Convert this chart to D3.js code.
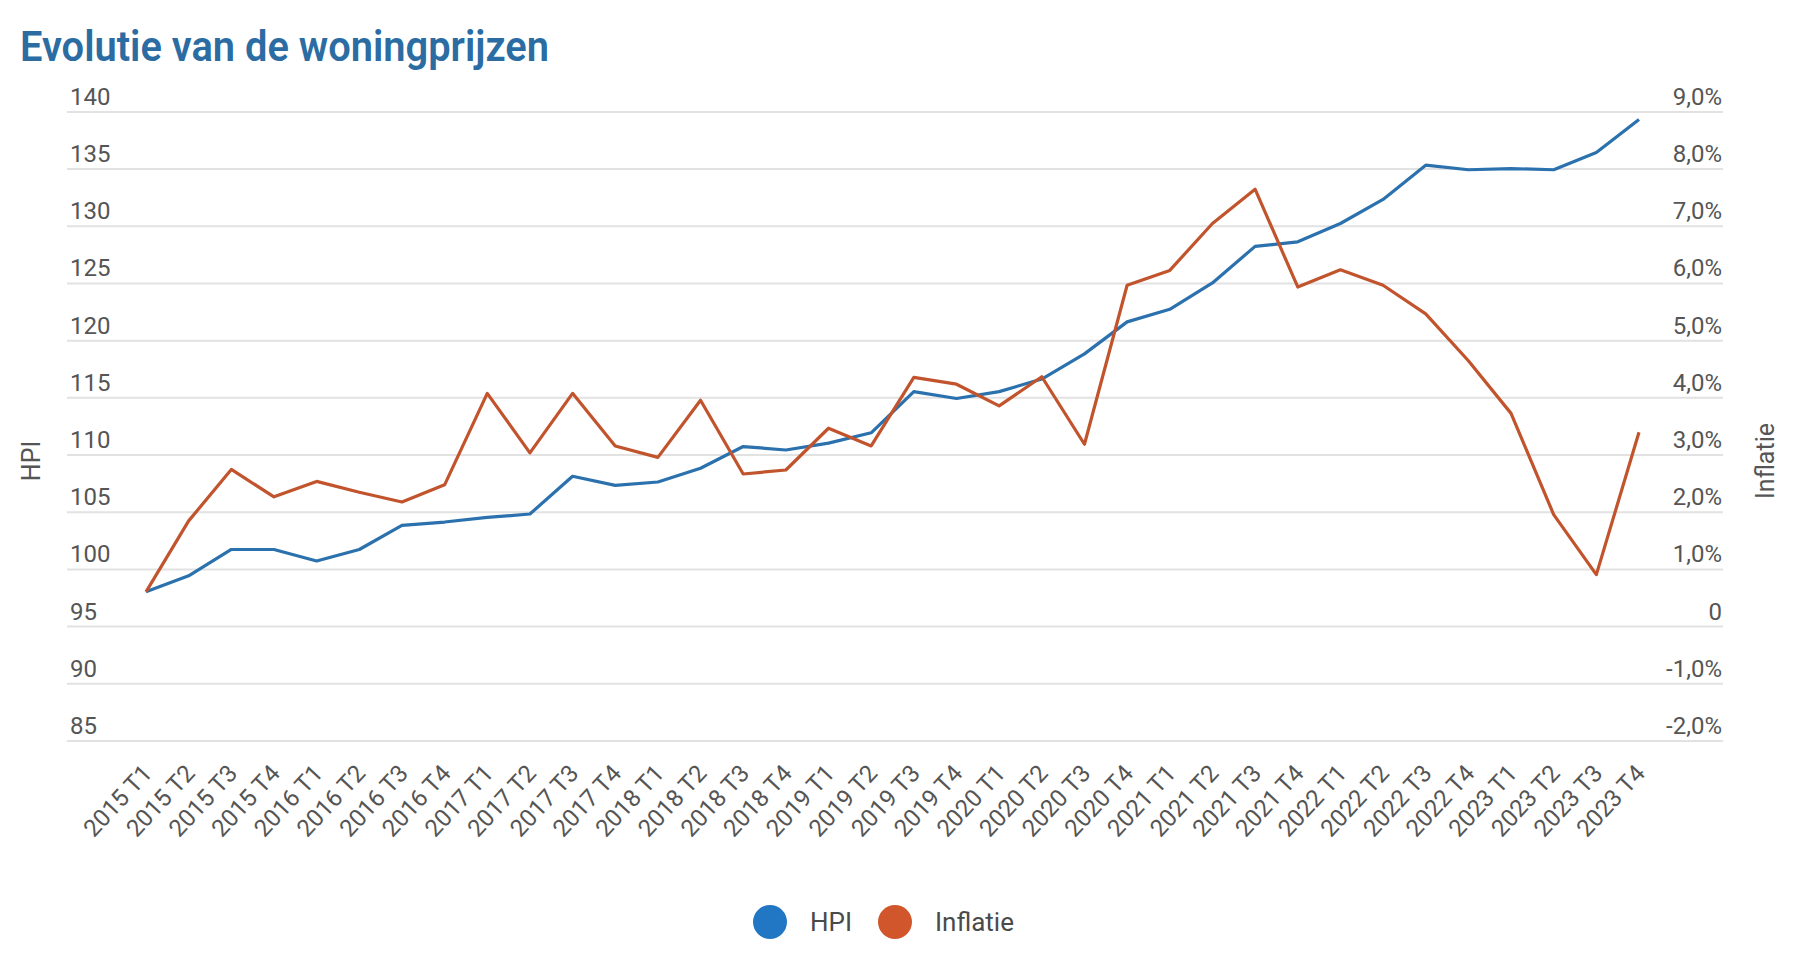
<!DOCTYPE html>
<html>
<head>
<meta charset="utf-8">
<script src="https://cdn.jsdelivr.net/npm/d3@7"></script>
<style>
  html, body { margin: 0; padding: 0; background: #ffffff; }
  svg { display: block; font-family: Roboto, "Noto Sans", sans-serif; }
</style>
</head>
<body>
<svg id="chart" width="1800" height="956"></svg>
<script>
const categories = [
  "2015 T1","2015 T2","2015 T3","2015 T4",
  "2016 T1","2016 T2","2016 T3","2016 T4",
  "2017 T1","2017 T2","2017 T3","2017 T4",
  "2018 T1","2018 T2","2018 T3","2018 T4",
  "2019 T1","2019 T2","2019 T3","2019 T4",
  "2020 T1","2020 T2","2020 T3","2020 T4",
  "2021 T1","2021 T2","2021 T3","2021 T4",
  "2022 T1","2022 T2","2022 T3","2022 T4",
  "2023 T1","2023 T2","2023 T3","2023 T4"
];
const hpi = [
  98.0, 99.4, 101.7, 101.7,
  100.7, 101.7, 103.8, 104.1,
  104.5, 104.8, 108.1, 107.3,
  107.6, 108.8, 110.7, 110.4,
  111.0, 111.9, 115.5, 114.9,
  115.5, 116.6, 118.8, 121.6,
  122.7, 125.0, 128.2, 128.6,
  130.2, 132.3, 135.3, 134.9,
  135.0, 134.9, 136.4, 139.3
];
const inflatie = [
  0.60, 1.84, 2.74, 2.26,
  2.53, 2.34, 2.17, 2.47,
  4.07, 3.03, 4.07, 3.15,
  2.95, 3.95, 2.66, 2.73,
  3.46, 3.15, 4.35, 4.23,
  3.85, 4.36, 3.18, 5.96,
  6.22, 7.04, 7.64, 5.93,
  6.23, 5.96, 5.46, 4.64,
  3.72, 1.95, 0.90, 3.39
];
const leftTicks = [85, 90, 95, 100, 105, 110, 115, 120, 125, 130, 135, 140];
const rightTicks = [-2, -1, 0, 1, 2, 3, 4, 5, 6, 7, 8, 9];
const seriesNames = ["HPI", "Inflatie"];
const titleText = "Evolutie van de woningprijzen";
const leftTitle = "HPI";
const rightTitle = "Inflatie";

const colors = { line: ["#2b71ae", "#c1542c"], dot: ["#2277c4", "#d2562b"] };

const svg = d3.select("#chart");
const gridLeft = 67, gridRight = 1723;
const yTop = 111.4, yBottom = 740.5;

const x = d3.scalePoint().domain(categories).range([146, 1639]);
const yL = d3.scaleLinear().domain([85, 140]).range([yBottom, yTop]);
const yR = d3.scaleLinear().domain([-2, 9]).range([yBottom, yTop]);

// Title
svg.append("text")
  .attr("x", 20).attr("y", 61)
  .attr("font-size", 42).attr("font-weight", 600)
  .attr("fill", "#2b6ca3")
  .attr("textLength", 529).attr("lengthAdjust", "spacingAndGlyphs")
  .text(titleText);

// Left axis with gridlines
const gL = svg.append("g").attr("transform", `translate(${gridLeft},0)`)
  .call(d3.axisLeft(yL).tickValues(leftTicks).tickSize(-(gridRight - gridLeft)).tickFormat(d3.format("d")));
gL.select(".domain").remove();
gL.selectAll(".tick line").attr("stroke", "#e2e2e2").attr("stroke-width", 2);
gL.selectAll(".tick text")
  .attr("x", 3).attr("dy", -7)
  .attr("text-anchor", "start")
  .attr("font-size", 24).attr("font-family", "Roboto")
  .attr("fill", "#555");

// Right axis
const fmtR = v => v === 0 ? "0" : (v < 0 ? "-" : "") + d3.format(".1f")(Math.abs(v)).replace(".", ",") + "%";
const gR = svg.append("g").attr("transform", `translate(${gridRight},0)`)
  .call(d3.axisRight(yR).tickValues(rightTicks).tickSize(0).tickFormat(fmtR));
gR.select(".domain").remove();
gR.selectAll(".tick text")
  .attr("x", -1).attr("dy", -7)
  .attr("text-anchor", "end")
  .attr("font-size", 24).attr("font-family", "Roboto")
  .attr("fill", "#555");

// X axis
const gX = svg.append("g").attr("transform", `translate(0,${yBottom})`)
  .call(d3.axisBottom(x).tickSize(0));
gX.select(".domain").remove();
gX.selectAll(".tick text")
  .attr("x", 7).attr("y", 34).attr("dy", 0)
  .attr("text-anchor", "end")
  .attr("font-size", 24).attr("font-family", "Roboto")
  .attr("fill", "#555")
  .attr("transform", "rotate(-47, 7, 34)");

// Axis titles
svg.append("text")
  .attr("transform", `translate(40,461) rotate(-90)`)
  .attr("text-anchor", "middle")
  .attr("font-size", 25).attr("fill", "#555")
  .text(leftTitle);
svg.append("text")
  .attr("transform", `translate(1774,461) rotate(-90)`)
  .attr("text-anchor", "middle")
  .attr("font-size", 25).attr("fill", "#555")
  .text(rightTitle);

// Lines
const lineL = d3.line().x((d, i) => x(categories[i])).y(d => yL(d));
const lineR = d3.line().x((d, i) => x(categories[i])).y(d => yR(d));
svg.append("path").datum(hpi)
  .attr("d", lineL).attr("fill", "none")
  .attr("stroke", colors.line[0]).attr("stroke-width", 3.2)
  .attr("stroke-linejoin", "round");
svg.append("path").datum(inflatie)
  .attr("d", lineR).attr("fill", "none")
  .attr("stroke", colors.line[1]).attr("stroke-width", 3.2)
  .attr("stroke-linejoin", "round");

// Legend
const legendPos = [{cx: 770, tx: 810}, {cx: 895, tx: 935}];
const lg = svg.append("g");
seriesNames.forEach((name, i) => {
  lg.append("circle").attr("cx", legendPos[i].cx).attr("cy", 922).attr("r", 17)
    .attr("fill", colors.dot[i]);
  lg.append("text").attr("x", legendPos[i].tx).attr("y", 931)
    .attr("font-size", 26).attr("fill", "#4a4a4a").text(name);
});
</script>
</body>
</html>
